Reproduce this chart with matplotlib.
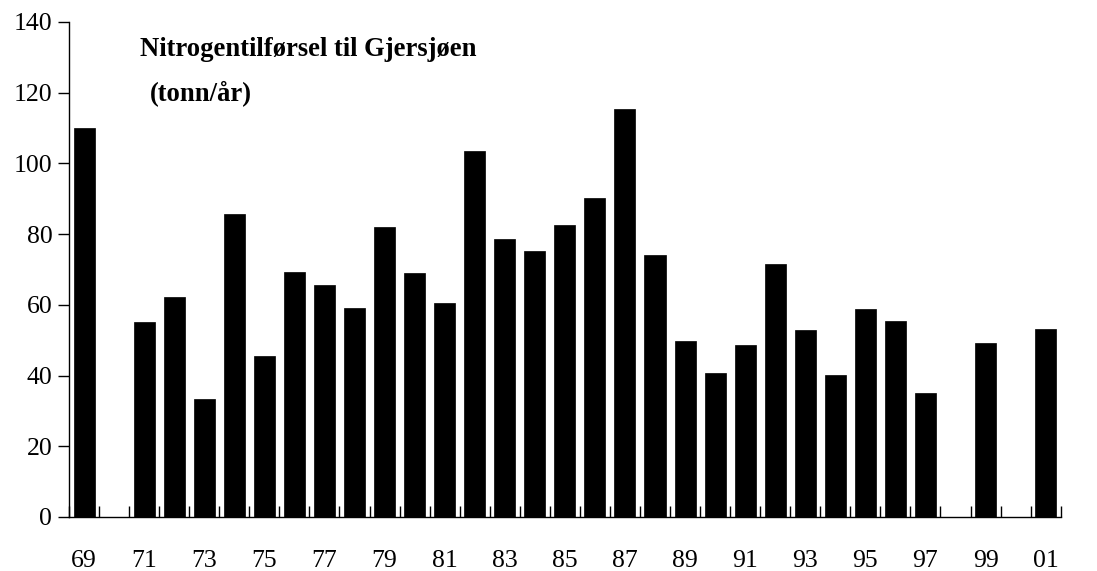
import numpy as np
import matplotlib
matplotlib.use("Agg")
import matplotlib.pyplot as plt

years = ["69", "70", "71", "72", "73", "74", "75", "76", "77", "78", "79",
         "80", "81", "82", "83", "84", "85", "86", "87", "88", "89", "90",
         "91", "92", "93", "94", "95", "96", "97", "98", "99", "00", "01"]
values = [110.0, np.nan, 55.0, 62.2, 33.4, 85.8, 45.5, 69.2, 65.7, 59.0, 82.0,
          69.1, 60.6, 103.6, 78.5, 75.1, 82.7, 90.3, 115.3, 74.2, 49.7, 40.8,
          48.7, 71.6, 52.9, 40.1, 58.9, 55.3, 35.2, np.nan, 49.2, np.nan, 53.2]
title_lines = ["Nitrogentilførsel til Gjersjøen", "(tonn/år)"]

plt.rcParams['font.family'] = ['Liberation Serif', 'DejaVu Serif']

fig = plt.figure(figsize=(10.97, 5.71), dpi=100)
ax = fig.add_axes([0.0629, 0.0946, 0.904, 0.867])

x = np.arange(len(years))
ax.bar(x, values, width=0.7, color='black', edgecolor='black', linewidth=0.5)

ax.set_xlim(-0.5, len(years) - 0.5)
ax.set_ylim(0, 140)
ax.set_yticks(np.arange(0, 141, 20))
ax.tick_params(axis='y', direction='out', length=8, width=1, labelsize=18.5, pad=4)

ax.set_xticks(x[::2])
ax.set_xticklabels(years[::2])
ax.set_xticks(np.arange(-0.5, len(years), 1.0), minor=True)
ax.tick_params(axis='x', which='major', length=0, labelsize=18.5, pad=23.5)
ax.tick_params(axis='x', which='minor', direction='in', length=8, width=1)

for s in ['top', 'right']:
    ax.spines[s].set_visible(False)
for s in ['left', 'bottom']:
    ax.spines[s].set_linewidth(1)

ax.text(0.0716, 130.5, title_lines[0], transform=ax.get_yaxis_transform(),
        fontsize=19.2, fontweight='bold', va='baseline', ha='left')
ax.text(0.0817, 117.9, title_lines[1], transform=ax.get_yaxis_transform(),
        fontsize=19.2, fontweight='bold', va='baseline', ha='left')

fig.savefig("out.png", dpi=100)
